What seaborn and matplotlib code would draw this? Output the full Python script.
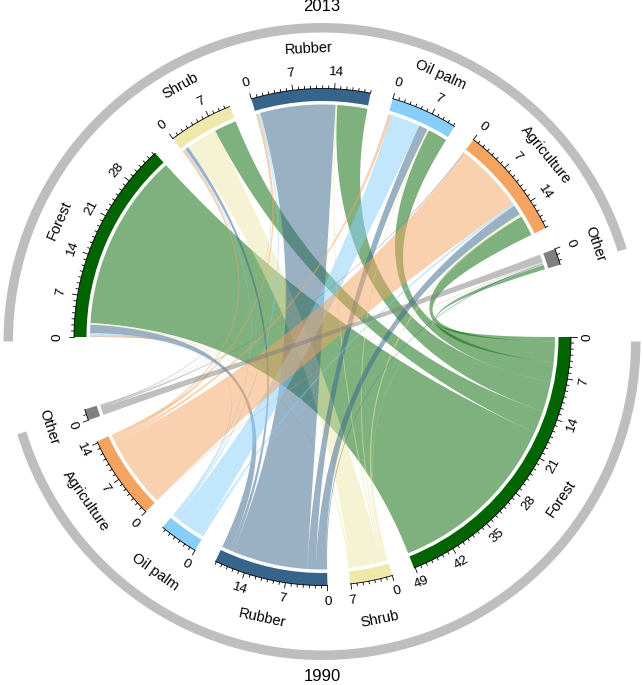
import numpy as np
import matplotlib
matplotlib.use('Agg')
import matplotlib.pyplot as plt
from matplotlib.patches import Wedge, Polygon
import seaborn as sns

# land-use classes, same order for both years
classes = ['Forest', 'Shrub', 'Rubber', 'Oil palm', 'Agriculture', 'Other']
class_colors = ['#006400', '#EEE8AA', '#36648B', '#87CEFA', '#F4A460', '#808080']
years = ['1990', '2013']

# area moving from a 1990 class (one list each) into the 2013 classes
forest_1990 = [31.8, 4.0, 5.4, 3.5, 3.7, 0.8]
shrub_1990 = [0.3, 5.6, 0.3, 0.3, 0.5, 0.1]
rubber_1990 = [1.5, 0.6, 13.5, 1.6, 1.8, 0.2]
oilpalm_1990 = [0.3, 0.2, 0.3, 5.3, 0.4, 0.1]
agri_1990 = [0.3, 0.4, 0.4, 0.5, 12.5, 0.15]
other_1990 = [0.1, 0.05, 0.1, 0.05, 0.2, 1.4]
major_step = 7

flows = np.array([forest_1990, shrub_1990, rubber_1990,
                  oilpalm_1990, agri_1990, other_1990])

sns.set_theme(style='white')
plt.rcParams['font.family'] = ['Liberation Sans', 'DejaVu Sans']
plt.rcParams['text.color'] = 'black'

W, H = 643, 685
fig = plt.figure(figsize=(W / 100, H / 100), dpi=100)
ax = fig.add_axes([0, 0, 1, 1])
ax.set_xlim(0, W)
ax.set_ylim(0, H)
ax.set_aspect('equal')
ax.axis('off')

# layout
cx, cy = 322.5, 348.0          # circos centre
rx, ry = 322.0, 343.5          # centre of the grey year rings
deg_per_unit = 1.39
gap = 5.3
r_link, r_in, r_out = 232.5, 236.0, 248.5
r_tick_lab, r_name = 265.0, 288.0


def pol(theta, r, c=(cx, cy)):
    t = np.radians(theta)
    return np.column_stack([c[0] + r * np.cos(t), c[1] + r * np.sin(t)])


def text_rot(theta):
    rot = (theta - 90) % 360
    if rot > 180:
        rot -= 360
    if rot > 90:
        rot -= 180
    elif rot <= -90:
        rot += 180
    return rot


def sector_layout(sizes, start):
    starts, pos = [], start
    for s in sizes:
        starts.append(pos)
        pos -= s * deg_per_unit + gap
    return np.array(starts)


size_1990 = flows.sum(axis=1)
size_2013 = flows.sum(axis=0)
start_1990 = sector_layout(size_1990, 0.0)
start_2013 = sector_layout(size_2013, 180.0)


def bezier(p0, p2, n=80):
    t = np.linspace(0, 1, n)[:, None]
    c = np.array([cx, cy])
    return (1 - t) ** 2 * p0 + 2 * (1 - t) * t * c + t ** 2 * p2


# links, coloured by the 1990 class; inside each sector the order runs Other..Forest
for i in range(len(classes)):
    for j in range(len(classes)):
        v = flows[i, j]
        if v <= 0:
            continue
        off_a = flows[i, j + 1:].sum()
        off_b = flows[i + 1:, j].sum()
        a_hi = start_1990[i] - off_a * deg_per_unit
        a_lo = a_hi - v * deg_per_unit
        b_hi = start_2013[j] - off_b * deg_per_unit
        b_lo = b_hi - v * deg_per_unit
        arc_a = pol(np.linspace(a_hi, a_lo, 30), r_link)
        arc_b = pol(np.linspace(b_hi, b_lo, 30), r_link)
        pts = np.vstack([arc_a, bezier(arc_a[-1], arc_b[0]),
                         arc_b, bezier(arc_b[-1], arc_a[0])])
        ax.add_patch(Polygon(pts, closed=True, facecolor=class_colors[i],
                             alpha=0.5, edgecolor='none', zorder=1))

# sector bars, axis ticks and names
for sizes, starts in [(size_1990, start_1990), (size_2013, start_2013)]:
    for k, name in enumerate(classes):
        s0 = starts[k]
        s1 = s0 - sizes[k] * deg_per_unit
        ax.add_patch(Wedge((cx, cy), r_out, s1, s0, width=r_out - r_in,
                           facecolor=class_colors[k], edgecolor='none', zorder=2))
        line = pol(np.linspace(s0, s1, 60), r_out)
        ax.plot(line[:, 0], line[:, 1], color='black', lw=0.6, zorder=3)
        for u in range(int(np.floor(sizes[k] + 1e-9)) + 1):
            th = s0 - u * deg_per_unit
            major = u % major_step == 0
            seg = pol(np.array([th, th]), np.array([r_out, r_out + (5.5 if major else 2.8)]))
            ax.plot(seg[:, 0], seg[:, 1], color='black', lw=0.6, zorder=3)
            if major:
                p = pol(th, r_tick_lab)[0]
                ax.text(p[0], p[1], str(u), fontsize=9.7, rotation=text_rot(th),
                        ha='center', va='center', rotation_mode='anchor')
        mid = (s0 + s1) / 2
        p = pol(mid, r_name)[0]
        ax.text(p[0], p[1], name, fontsize=10.5, rotation=text_rot(mid),
                ha='center', va='center', rotation_mode='anchor')

# grey rings marking the two years
end_1990 = start_1990[-1] - size_1990[-1] * deg_per_unit
end_2013 = start_2013[-1] - size_2013[-1] * deg_per_unit
ax.add_patch(Wedge((rx, ry), 318.5, end_1990, 0.0, width=9.5,
                   facecolor='#BEBEBE', edgecolor='none', zorder=1))
ax.add_patch(Wedge((rx, ry), 318.5, end_2013, 180.0, width=9.5,
                   facecolor='#BEBEBE', edgecolor='none', zorder=1))
ax.text(rx, ry - 335, years[0], fontsize=12, ha='center', va='center')
ax.text(rx, ry + 335, years[1], fontsize=12, ha='center', va='center')

fig.savefig('out.png', dpi=100)
